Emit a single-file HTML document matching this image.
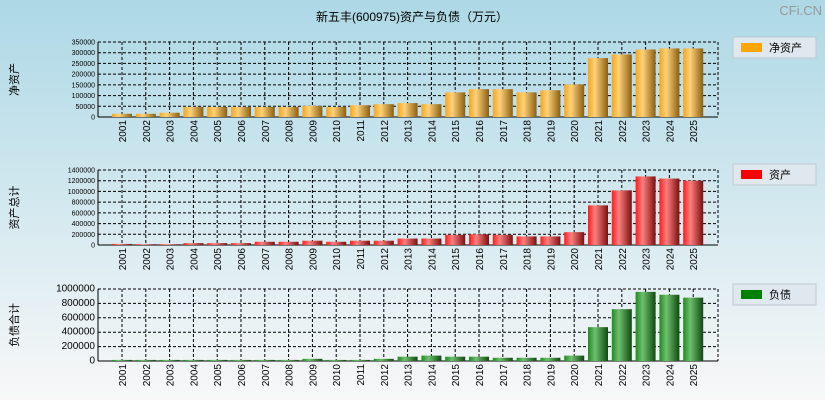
<!DOCTYPE html>
<html><head><meta charset="utf-8"><style>
body{margin:0;width:825px;height:400px;overflow:hidden;font-family:"Liberation Sans","Noto Sans CJK SC",sans-serif}
svg text{font-family:"Liberation Sans","Noto Sans CJK SC",sans-serif}
</style></head><body>
<svg id="c" width="825" height="400" xmlns="http://www.w3.org/2000/svg">
<defs>
<linearGradient id="bg" x1="0" y1="0" x2="0" y2="1"><stop offset="0" stop-color="#add8e6"/><stop offset="1" stop-color="#f8f8f8"/></linearGradient>
<linearGradient id="g0" x1="0" x2="1"><stop offset="0" stop-color="#f7a51c"/><stop offset="0.35" stop-color="#ffd27a"/><stop offset="1" stop-color="#8a5f10"/></linearGradient>
<linearGradient id="g1" x1="0" x2="1"><stop offset="0" stop-color="#ff1a1a"/><stop offset="0.35" stop-color="#ff8080"/><stop offset="1" stop-color="#7a0f0f"/></linearGradient>
<linearGradient id="g2" x1="0" x2="1"><stop offset="0" stop-color="#1f8a1f"/><stop offset="0.35" stop-color="#6fc06f"/><stop offset="1" stop-color="#0f4a0f"/></linearGradient>
</defs>
<rect width="825" height="400" fill="url(#bg)"/>
<text x="412" y="21" font-size="12" text-anchor="middle" fill="#000">新五丰(600975)资产与负债（万元）</text>
<text x="822" y="15" font-size="13" text-anchor="end" fill="#999">CFi.CN</text>
</svg>
<script>
const years=["2001","2002","2003","2004","2005","2006","2007","2008","2009","2010","2011","2012","2013","2014","2015","2016","2017","2018","2019","2020","2021","2022","2023","2024","2025"];
const netAssets=[15000,15000,20000,47000,47000,47000,47000,47000,52000,47000,55000,60000,65000,60000,115000,130000,130000,115000,125000,152000,275000,292000,315000,320000,320000];
const totalAssets=[20000,15000,15000,35000,35000,35000,60000,60000,80000,60000,80000,80000,120000,120000,190000,200000,190000,160000,160000,240000,740000,1020000,1280000,1240000,1200000];
const liabilities=[15000,15000,15000,15000,15000,15000,15000,15000,30000,15000,15000,30000,60000,75000,60000,60000,45000,45000,45000,75000,470000,720000,960000,920000,880000];
const ticks0=[0,50000,100000,150000,200000,250000,300000,350000];
const ticks1=[0,200000,400000,600000,800000,1000000,1200000,1400000];
const ticks2=[0,200000,400000,600000,800000,1000000];
const NS="http://www.w3.org/2000/svg",svg=document.getElementById('c');
function el(t,a,p){const e=document.createElementNS(NS,t);for(const k in a)e.setAttribute(k,a[k]);(p||svg).appendChild(e);return e;}
const panels=[
{vals:netAssets,ticks:ticks0,top:42,bot:117,fill:"url(#g0)",sw:"#ffa500",title:"净资产",leg:"净资产",ly:37,fs:7,key:"net-assets"},
{vals:totalAssets,ticks:ticks1,top:170,bot:245,fill:"url(#g1)",sw:"#ff0000",title:"资产总计",leg:"资产",ly:164,fs:7,key:"total-assets"},
{vals:liabilities,ticks:ticks2,top:289,bot:361,fill:"url(#g2)",sw:"#008000",title:"负债合计",leg:"负债",ly:284,fs:10,key:"liabilities"}];
const L=98,R=718,x0=122,step=23.8;
function xc(i){return x0+step*i;}
panels.forEach(p=>{
 const max=p.ticks[p.ticks.length-1];
 const y=v=>p.bot-(v/max)*(p.bot-p.top);
 const g=el('g',{});
 
 
 p.ticks.forEach(t=>{
  const l=el('line',{x1:L,x2:R,y1:y(t),y2:y(t),stroke:"#000","stroke-width":1,"stroke-dasharray":t?"3,2":""},g);
  
  
  const tx=el('text',{x:L-3,y:y(t)+2.5,"font-size":p.fs,"text-anchor":"end"},g);tx.textContent=t;
  
  
 });
 years.forEach((yr,i)=>{
  const l=el('line',{x1:xc(i),x2:xc(i),y1:p.top,y2:p.bot,stroke:"#000","stroke-dasharray":"3,2"},g);
  
  
 });
 el('line',{x1:R,x2:R,y1:p.top,y2:p.bot,stroke:"#000","stroke-dasharray":"3,2"},g);
 el('line',{x1:L,x2:L,y1:p.top,y2:p.bot,stroke:"#000"},g);
 el('line',{x1:L,x2:R,y1:p.bot,y2:p.bot,stroke:"#000"},g);
 years.forEach((yr,i)=>{
  const v=p.vals[i];
  const r=el('rect',{x:xc(i)-10,y:y(v),width:20,height:p.bot-y(v),fill:p.fill},g);
  
  
  const t=el('text',{x:0,y:0,"font-size":10,"text-anchor":"end",transform:`translate(${xc(i)+4},${p.bot+3}) rotate(-90)`},g);
  t.textContent=yr;
  
  
 });
 const yt=el('text',{x:0,y:0,"font-size":11,"text-anchor":"middle",transform:`translate(18,${(p.top+p.bot)/2}) rotate(-90)`},g);
 yt.textContent=p.title;
 
 
 const lg=el('g',{},g);
 
 
 el('rect',{x:733,y:p.ly,width:83,height:21,fill:"#dfe8ee",stroke:"#c0c8d0"},lg);
 el('rect',{x:741,y:p.ly+6,width:21,height:9,fill:p.sw},lg);
 const lt=el('text',{x:769,y:p.ly+14.5,"font-size":11},lg);lt.textContent=p.leg;
});
</script>
</body></html>
